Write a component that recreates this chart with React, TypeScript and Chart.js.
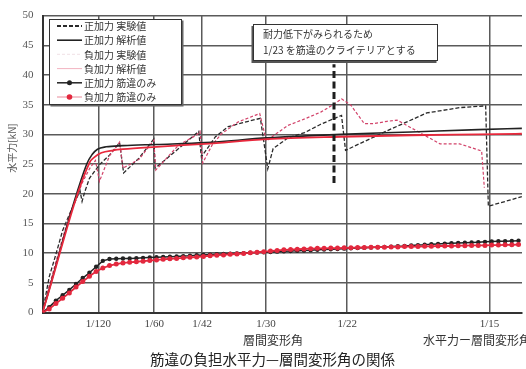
import React, { useEffect, useRef } from "react";
import { Chart, registerables } from "chart.js";

Chart.register(...registerables);

const W = 526;
const H = 369;

// ---- axis ticks ----
const xTickDenominators = [120, 60, 42, 30, 22, 15];
const xTickLabels = ["1/120", "1/60", "1/42", "1/30", "1/22", "1/15"];
const xMax = 0.07152;
const yMax = 50;
const yStep = 5;

// ---- labels / texts ----
const seriesLabels = [
  "正加力 実験値",
  "正加力 解析値",
  "負加力 実験値",
  "負加力 解析値",
  "正加力 筋違のみ",
  "負加力 筋違のみ",
];
const yTitle = "水平力[kN]";
const xTitle = "層間変形角";
const caption = "筋違の負担水平力—層間変形角の関係";
const sideCaption = "水平力ー層間変形角の関係";
const noteLines = ["耐力低下がみられるため", "1/23 を筋違のクライテリアとする"];

// ---- criteria line (1/23) ----
const criteriaDenominator = 23;
const criteriaYRange = [21.8, 41.8];

// ---- 正加力 実験値 (positive, test) ----
const posTestX = [0, 0.001, 0.002, 0.003, 0.004, 0.005, 0.0056, 0.0059, 0.0063, 0.007, 0.0085, 0.01, 0.0112, 0.0115, 0.0121, 0.0144, 0.0166, 0.0168, 0.0203, 0.0233, 0.0237, 0.0258, 0.0277, 0.0307, 0.0325, 0.0336, 0.0344, 0.0366, 0.0391, 0.0415, 0.0446, 0.0452, 0.048, 0.0514, 0.0573, 0.0622, 0.0661, 0.0665, 0.0715];
const posTestY = [0, 6.0, 9.8, 13.8, 16.5, 19.0, 20.5, 18.7, 20.3, 22.6, 24.9, 26.5, 28.2, 28.6, 23.5, 26.0, 29.2, 24.3, 27.6, 30.5, 26.2, 29.6, 31.3, 32.2, 32.7, 24.2, 27.6, 29.4, 30.3, 31.7, 33.2, 27.3, 28.8, 30.6, 33.6, 34.5, 34.8, 17.9, 19.5];

// ---- 正加力 解析値 (positive, analysis) ----
const posCalcX = [0, 0.0066, 0.0074, 0.0082, 0.0095, 0.012, 0.017, 0.0243, 0.0335, 0.0445, 0.055, 0.065, 0.0715];
const posCalcY = [0, 25.0, 26.6, 27.5, 27.9, 28.1, 28.3, 28.6, 29.4, 30.0, 30.4, 30.8, 31.0];

// ---- 負加力 実験値 (negative, test) ----
const negTestX = [0, 0.001, 0.002, 0.003, 0.004, 0.005, 0.006, 0.007, 0.0079, 0.0085, 0.01, 0.0115, 0.012, 0.0144, 0.0166, 0.0169, 0.0203, 0.023, 0.0235, 0.0239, 0.0253, 0.0267, 0.0292, 0.0317, 0.0324, 0.0334, 0.0346, 0.0366, 0.0391, 0.0415, 0.0435, 0.0446, 0.046, 0.048, 0.0494, 0.0514, 0.0529, 0.0545, 0.0593, 0.0622, 0.0655, 0.0659];
const negTestY = [0, 4.5, 8.5, 12.5, 16.3, 19.3, 22.0, 24.2, 25.6, 22.1, 26.4, 28.7, 24.3, 25.8, 29.0, 24.0, 28.2, 29.9, 30.5, 25.2, 28.2, 30.1, 32.1, 33.2, 33.5, 28.9, 29.9, 31.5, 32.6, 33.75, 35.1, 36.0, 34.9, 31.8, 31.8, 32.2, 32.4, 31.4, 28.4, 28.4, 27.2, 21.0];

// ---- 負加力 解析値 (negative, analysis) ----
const negCalcX = [0, 0.007, 0.0078, 0.0088, 0.0105, 0.012, 0.017, 0.0243, 0.0335, 0.0445, 0.055, 0.065, 0.0715];
const negCalcY = [0, 25.2, 26.2, 26.9, 27.3, 27.5, 27.9, 28.4, 29.2, 29.6, 29.85, 30.0, 30.1];

// ---- 筋違のみ (brace only) ----
const braceX = [0, 0.001, 0.002, 0.003, 0.004, 0.005, 0.006, 0.007, 0.008, 0.009, 0.01, 0.011, 0.012, 0.013, 0.014, 0.015, 0.016, 0.017, 0.018, 0.019, 0.02, 0.021, 0.022, 0.023, 0.024, 0.025, 0.026, 0.027, 0.028, 0.029, 0.03, 0.031, 0.032, 0.033, 0.034, 0.035, 0.036, 0.037, 0.038, 0.039, 0.04, 0.041, 0.042, 0.043, 0.044, 0.045, 0.046, 0.047, 0.048, 0.049, 0.05, 0.051, 0.052, 0.053, 0.054, 0.055, 0.056, 0.057, 0.058, 0.059, 0.06, 0.061, 0.062, 0.063, 0.064, 0.065, 0.066, 0.067, 0.068, 0.069, 0.07, 0.071];
const posBraceY = [0, 0.9, 2.0, 2.9, 3.8, 4.8, 5.8, 6.7, 7.7, 8.7, 9.0, 9.05, 9.1, 9.1, 9.15, 9.2, 9.25, 9.3, 9.35, 9.4, 9.45, 9.5, 9.55, 9.65, 9.7, 9.75, 9.8, 9.85, 9.9, 9.95, 10.0, 10.05, 10.1, 10.15, 10.2, 10.25, 10.3, 10.35, 10.4, 10.45, 10.5, 10.55, 10.6, 10.65, 10.7, 10.75, 10.8, 10.85, 10.9, 10.95, 11.0, 11.05, 11.1, 11.15, 11.2, 11.3, 11.35, 11.4, 11.5, 11.55, 11.6, 11.65, 11.7, 11.75, 11.8, 11.85, 11.9, 11.95, 12.0, 12.0, 12.05, 12.1];
const negBraceY = [0, 0.6, 1.5, 2.4, 3.3, 4.3, 5.2, 6.1, 6.9, 7.5, 7.9, 8.15, 8.35, 8.45, 8.55, 8.65, 8.75, 8.85, 8.95, 9.05, 9.1, 9.2, 9.3, 9.35, 9.45, 9.55, 9.65, 9.7, 9.8, 9.85, 9.95, 10.05, 10.15, 10.25, 10.35, 10.45, 10.55, 10.6, 10.65, 10.7, 10.75, 10.8, 10.8, 10.85, 10.85, 10.9, 10.9, 10.95, 10.95, 11.0, 11.0, 11.0, 11.05, 11.05, 11.1, 11.1, 11.1, 11.15, 11.15, 11.2, 11.2, 11.2, 11.25, 11.25, 11.3, 11.3, 11.3, 11.35, 11.35, 11.4, 11.4, 11.45];

const pts = (xs: number[], ys: number[]) => xs.map((x, i) => ({ x, y: ys[i] }));

const CJK = '"Noto Sans CJK JP", "Noto Sans", sans-serif';
const SERIF = '"Liberation Serif", "DejaVu Serif", serif';

const overlayPlugin = {
  id: "overlay",
  afterDraw(chart: any) {
    const ctx: CanvasRenderingContext2D = chart.ctx;
    ctx.save();

    // ---- annotation box ----
    const bx = 253, by = 24, bw = 185, bh = 37;
    ctx.fillStyle = "#555";
    ctx.fillRect(bx - 1.5, by + 2, bw, bh);
    ctx.fillStyle = "#fff";
    ctx.fillRect(bx, by, bw, bh);
    ctx.strokeStyle = "#333";
    ctx.lineWidth = 1;
    ctx.strokeRect(bx + 0.5, by + 0.5, bw - 1, bh - 1);
    ctx.fillStyle = "#333";
    ctx.font = `10px ${CJK}`;
    ctx.textBaseline = "middle";
    ctx.textAlign = "left";
    ctx.fillText(noteLines[0], 263, 34.5);
    ctx.fillText(noteLines[1], 263, 50.5);

    // ---- legend ----
    const lx = 49, ly = 19, lw = 133, lh = 86;
    ctx.fillStyle = "#666";
    ctx.fillRect(lx + 1.5, ly + 1.5, lw, lh);
    ctx.fillStyle = "#fff";
    ctx.fillRect(lx, ly, lw, lh);
    ctx.strokeStyle = "#333";
    ctx.lineWidth = 1;
    ctx.strokeRect(lx + 0.5, ly + 0.5, lw - 1, lh - 1);
    const ds = chart.data.datasets.filter((d: any) => !d.legendHidden);
    ds.forEach((d: any, i: number) => {
      const y = 26 + i * 14.2;
      const col = d.legendColor || d.borderColor;
      ctx.strokeStyle = col;
      ctx.lineWidth = d.legendWidth || d.borderWidth;
      ctx.setLineDash(d.borderDash || []);
      ctx.beginPath();
      ctx.moveTo(57, y);
      ctx.lineTo(82, y);
      ctx.stroke();
      ctx.setLineDash([]);
      if (d.pointRadius > 0) {
        ctx.fillStyle = d.legendPointColor || d.pointBackgroundColor;
        ctx.beginPath();
        ctx.arc(69.5, y, d.pointRadius + 0.3, 0, Math.PI * 2);
        ctx.fill();
      }
      ctx.fillStyle = "#333";
      ctx.font = `10px ${CJK}`;
      ctx.textAlign = "left";
      ctx.textBaseline = "middle";
      ctx.fillText(d.label, 84, y + 0.5);
    });

    // ---- y axis title ----
    ctx.save();
    ctx.translate(12, 148);
    ctx.rotate(-Math.PI / 2);
    ctx.fillStyle = "#555";
    ctx.font = `10px ${CJK}`;
    ctx.textAlign = "center";
    ctx.textBaseline = "middle";
    ctx.fillText(yTitle, 0, 0);
    ctx.restore();

    // ---- bottom texts ----
    ctx.fillStyle = "#333";
    ctx.font = `12px ${CJK}`;
    ctx.textAlign = "center";
    ctx.textBaseline = "middle";
    ctx.fillText(xTitle, 273, 340);
    ctx.textAlign = "left";
    ctx.fillText(sideCaption, 423, 340);
    ctx.font = `14.5px ${CJK}`;
    ctx.fillStyle = "#222";
    ctx.textAlign = "center";
    ctx.fillText(caption, 272.5, 359);

    ctx.restore();
  },
};

export default function App() {
  const ref = useRef<HTMLCanvasElement>(null);

  useEffect(() => {
    if (!ref.current) return;
    const datasets: any[] = [
      {
        label: seriesLabels[0],
        data: pts(posTestX, posTestY),
        borderColor: "#2a2a2a",
        borderWidth: 1.3,
        borderDash: [4, 2],
        pointRadius: 0,
        tension: 0,
        order: 6,
        legendWidth: 2,
      },
      {
        label: seriesLabels[1],
        data: pts(posCalcX, posCalcY),
        borderColor: "#222",
        borderWidth: 1.6,
        pointRadius: 0,
        cubicInterpolationMode: "monotone",
        order: 4,
      },
      {
        label: seriesLabels[2],
        data: pts(negTestX, negTestY),
        borderColor: "#d2436a",
        borderWidth: 1.2,
        borderDash: [3, 2],
        pointRadius: 0,
        tension: 0,
        order: 5,
        legendColor: "#f3e6ea",
      },
      {
        label: seriesLabels[3],
        data: pts(negCalcX, negCalcY),
        borderColor: "#e8283c",
        borderWidth: 1.8,
        pointRadius: 0,
        cubicInterpolationMode: "monotone",
        order: 1,
        legendColor: "#f2b3c0",
        legendWidth: 1,
      },
      {
        label: seriesLabels[4],
        data: pts(braceX, posBraceY),
        borderColor: "#222",
        borderWidth: 1.5,
        pointRadius: 2.2,
        pointBackgroundColor: "#222",
        pointBorderWidth: 0,
        tension: 0,
        order: 3,
      },
      {
        label: seriesLabels[5],
        data: pts(braceX, negBraceY),
        borderColor: "#e3283e",
        borderWidth: 1.8,
        pointRadius: 2.5,
        pointBackgroundColor: "#e3283e",
        pointBorderWidth: 0,
        tension: 0,
        order: 2,
        legendColor: "#e98a9a",
        legendWidth: 1,
      },
      {
        label: "",
        legendHidden: true,
        data: [
          { x: 1 / criteriaDenominator, y: criteriaYRange[0] },
          { x: 1 / criteriaDenominator, y: criteriaYRange[1] },
        ],
        borderColor: "#1e1e1e",
        borderWidth: 3,
        borderDash: [7, 3.5],
        pointRadius: 0,
        order: 0,
      },
    ];

    const chart = new Chart(ref.current, {
      type: "line",
      data: { datasets },
      options: {
        responsive: false,
        animation: false,
        devicePixelRatio: 1,
        layout: { padding: { top: 12.5, right: 0, left: 0, bottom: 0 } },
        plugins: {
          legend: { display: false },
          tooltip: { enabled: false },
        },
        scales: {
          x: {
            type: "linear",
            min: 0,
            max: xMax,
            afterBuildTicks: (s: any) => {
              s.ticks = xTickDenominators.map((d) => ({ value: 1 / d }));
            },
            afterFit: (s: any) => {
              s.height = 56.5;
            },
            ticks: {
              autoSkip: false,
              maxRotation: 0,
              padding: 5,
              color: "#444",
              font: { family: SERIF, size: 11 },
              callback: (v: any) => {
                const i = xTickDenominators.findIndex((d) => Math.abs(1 / d - v) < 1e-9);
                return i >= 0 ? xTickLabels[i] : "";
              },
            },
            grid: { color: "#5a5a5a", lineWidth: 1.5, drawTicks: false },
            border: { display: true, color: "#333", width: 2 },
          },
          y: {
            type: "linear",
            min: 0,
            max: yMax,
            afterFit: (s: any) => {
              s.width = 42.5;
            },
            ticks: {
              stepSize: yStep,
              padding: 9,
              color: "#555",
              font: { family: SERIF, size: 11 },
            },
            grid: { color: "#5a5a5a", lineWidth: 1.5, drawTicks: false },
            border: { display: true, color: "#333", width: 2 },
          },
        },
      } as any,
      plugins: [overlayPlugin],
    });
    return () => chart.destroy();
  }, []);

  return (
    <div
      style={{
        position: "absolute",
        left: 0,
        top: 0,
        width: W,
        height: H,
        overflow: "hidden",
        background: "#fff",
      }}
    >
      <canvas ref={ref} width={W} height={H} style={{ display: "block", width: W, height: H }} />
    </div>
  );
}
